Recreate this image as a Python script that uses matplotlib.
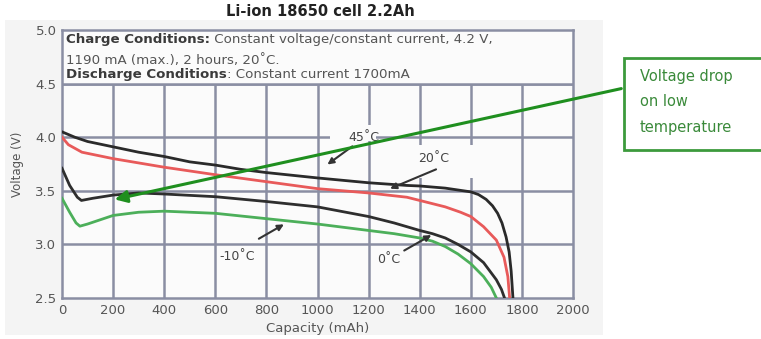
import matplotlib
matplotlib.use("Agg")
import matplotlib.pyplot as plt
from matplotlib.patches import Rectangle, FancyArrowPatch

# ---- data ----
cap_45 = [0, 50, 100, 200, 300, 400, 500, 600, 700, 800, 1000, 1200, 1350, 1400, 1500, 1600, 1630, 1660, 1685, 1705, 1722, 1738, 1750, 1758, 1765]
v_45 = [4.05, 4.00, 3.96, 3.91, 3.86, 3.82, 3.77, 3.74, 3.70, 3.67, 3.62, 3.575, 3.55, 3.545, 3.525, 3.49, 3.465, 3.42, 3.36, 3.29, 3.20, 3.07, 2.93, 2.75, 2.5]

cap_20 = [0, 25, 78, 200, 400, 600, 800, 1000, 1200, 1350, 1400, 1500, 1560, 1600, 1650, 1700, 1730, 1745, 1752]
v_20 = [4.00, 3.93, 3.86, 3.80, 3.72, 3.65, 3.585, 3.52, 3.48, 3.44, 3.41, 3.35, 3.30, 3.26, 3.165, 3.04, 2.88, 2.70, 2.5]

cap_0 = [0, 30, 60, 76, 120, 200, 300, 400, 600, 800, 1000, 1200, 1300, 1400, 1450, 1500, 1550, 1600, 1650, 1700, 1720, 1732]
v_0 = [3.71, 3.55, 3.44, 3.41, 3.43, 3.46, 3.48, 3.47, 3.445, 3.40, 3.35, 3.26, 3.20, 3.13, 3.10, 3.06, 3.00, 2.93, 2.83, 2.67, 2.58, 2.5]

cap_m10 = [0, 30, 55, 70, 100, 200, 300, 400, 600, 800, 1000, 1200, 1300, 1400, 1450, 1500, 1550, 1600, 1650, 1680, 1700]
v_m10 = [3.43, 3.30, 3.20, 3.17, 3.19, 3.27, 3.30, 3.31, 3.29, 3.24, 3.19, 3.13, 3.10, 3.06, 3.03, 2.98, 2.91, 2.82, 2.70, 2.60, 2.5]

x_ticks = [0, 200, 400, 600, 800, 1000, 1200, 1400, 1600, 1800, 2000]
y_ticks = [2.5, 3.0, 3.5, 4.0, 4.5, 5.0]

title = "Li-ion 18650 cell 2.2Ah"
labels = ["45˚C", "20˚C", "0˚C", "-10˚C"]

W, H = 761, 339
fig = plt.figure(figsize=(W / 100, H / 100), dpi=100)
fig.patch.set_facecolor("white")

# background of the scanned chart
bg = Rectangle((5 / W, 1 - 335 / H), (603 - 5) / W, (335 - 20) / H,
               transform=fig.transFigure, facecolor="#f4f4f4", edgecolor="none", zorder=-5)
fig.patches.append(bg)

ax = fig.add_axes([62 / W, 1 - 298 / H, (573 - 62) / W, (298 - 30) / H])
ax.set_zorder(1)
ax.set_facecolor("#fbfbfb")
ax.set_xlim(0, 2000)
ax.set_ylim(2.5, 5.0)

gcol = "#8a8ea3"
for xv in x_ticks[1:-1]:
    ax.plot([xv, xv], [2.5, 4.5], color=gcol, lw=1.8, zorder=1)
for yv in y_ticks[1:-1]:
    ax.plot([0, 2000], [yv, yv], color=gcol, lw=1.8, zorder=1)
for s in ax.spines.values():
    s.set_color(gcol)
    s.set_linewidth(1.8)

ax.set_xticks(x_ticks)
ax.set_yticks(y_ticks)
ax.set_xticklabels([str(v) for v in x_ticks])
ax.set_yticklabels([f"{v:.1f}" for v in y_ticks])
ax.tick_params(length=0, labelsize=9.5, labelcolor="#555555", pad=4)
ax.set_xlabel("Capacity (mAh)", fontsize=9.5, color="#555555", labelpad=4)
ax.set_ylabel("Voltage (V)", fontsize=8.5, color="#555555", labelpad=8)

# background-coloured covers behind the labels (grid gaps)
ax.add_patch(Rectangle((1050, 3.96), 180, 0.15, facecolor="#fbfbfb", edgecolor="none", zorder=2))
ax.add_patch(Rectangle((1380, 3.62), 240, 0.31, facecolor="#fbfbfb", edgecolor="none", zorder=2))

ax.plot(cap_45, v_45, color="#2a2a2a", lw=2.0, zorder=4)
ax.plot(cap_20, v_20, color="#e85a5a", lw=2.0, zorder=4)
ax.plot(cap_0, v_0, color="#2e2e2e", lw=2.0, zorder=4)
ax.plot(cap_m10, v_m10, color="#4caf5a", lw=2.0, zorder=4)

tcol = "#444444"
ax.text(1180, 4.0, labels[0], fontsize=9, color=tcol, ha="center", va="center", zorder=5)
ax.annotate("", xy=(1030, 3.73), xytext=(1145, 3.93),
            arrowprops=dict(arrowstyle="-|>", color="#333333", lw=1.5, mutation_scale=9), zorder=5)
ax.text(1456, 3.80, labels[1], fontsize=9, color=tcol, ha="center", va="center", zorder=5)
ax.annotate("", xy=(1274, 3.51), xytext=(1474, 3.71),
            arrowprops=dict(arrowstyle="-|>", color="#333333", lw=1.5, mutation_scale=9), zorder=5)
ax.text(1280, 2.86, labels[2], fontsize=9, color=tcol, ha="center", va="center", zorder=5)
ax.annotate("", xy=(1455, 3.1), xytext=(1330, 2.93),
            arrowprops=dict(arrowstyle="-|>", color="#333333", lw=1.5, mutation_scale=9), zorder=5)
ax.text(685, 2.89, labels[3], fontsize=9, color=tcol, ha="center", va="center", zorder=5)
ax.annotate("", xy=(878, 3.2), xytext=(761, 3.04),
            arrowprops=dict(arrowstyle="-|>", color="#333333", lw=1.5, mutation_scale=9), zorder=5)

# conditions box (top band)
ax.add_patch(Rectangle((0, 4.5), 2000, 0.5, facecolor="#fbfbfb", edgecolor=gcol, lw=1.8, zorder=3))
fs = 9.6
def line(y, bold, normal):
    t = ax.text(0.008, y, bold, transform=ax.transAxes, fontsize=fs, fontweight="bold",
                color="#3a3a3a", va="center", ha="left", zorder=6)
    fig.canvas.draw()
    bb = t.get_window_extent()
    x1 = ax.transAxes.inverted().transform((bb.x1, bb.y0))[0]
    ax.text(x1, y, normal, transform=ax.transAxes, fontsize=fs, color="#555555",
            va="center", ha="left", zorder=6)
line(0.963, "Charge Conditions:", " Constant voltage/constant current, 4.2 V,")
ax.text(0.008, 0.888, "1190 mA (max.), 2 hours, 20˚C.", transform=ax.transAxes, fontsize=fs,
        color="#555555", va="center", ha="left", zorder=6)
line(0.835, "Discharge Conditions", ": Constant current 1700mA")

fig.text(320 / W, 1 - 12 / H, title, fontsize=10.5, fontweight="bold", color="#222222",
         ha="center", va="center")

# green callout box
gbox = "#3c9a3c"
fig.patches.append(Rectangle((624 / W, 1 - 150 / H), (775 - 624) / W, (150 - 58) / H,
                             transform=fig.transFigure, facecolor="white", edgecolor=gbox,
                             lw=2.0, zorder=3, clip_on=False))
for i, s in enumerate(["Voltage drop", "on low", "temperature"]):
    fig.text(640 / W, 1 - (77 + i * 25) / H, s, fontsize=10.5, color="#3a8a3a",
             ha="left", va="center", zorder=4)

fig.add_artist(FancyArrowPatch(
    posA=(624 / W, 1 - 88 / H), posB=(112 / W, 1 - 200 / H), transform=fig.transFigure,
    arrowstyle="-|>", mutation_scale=18, color="#1f8f1f", lw=2.2, zorder=10))

fig.savefig("out.png", dpi=100)
